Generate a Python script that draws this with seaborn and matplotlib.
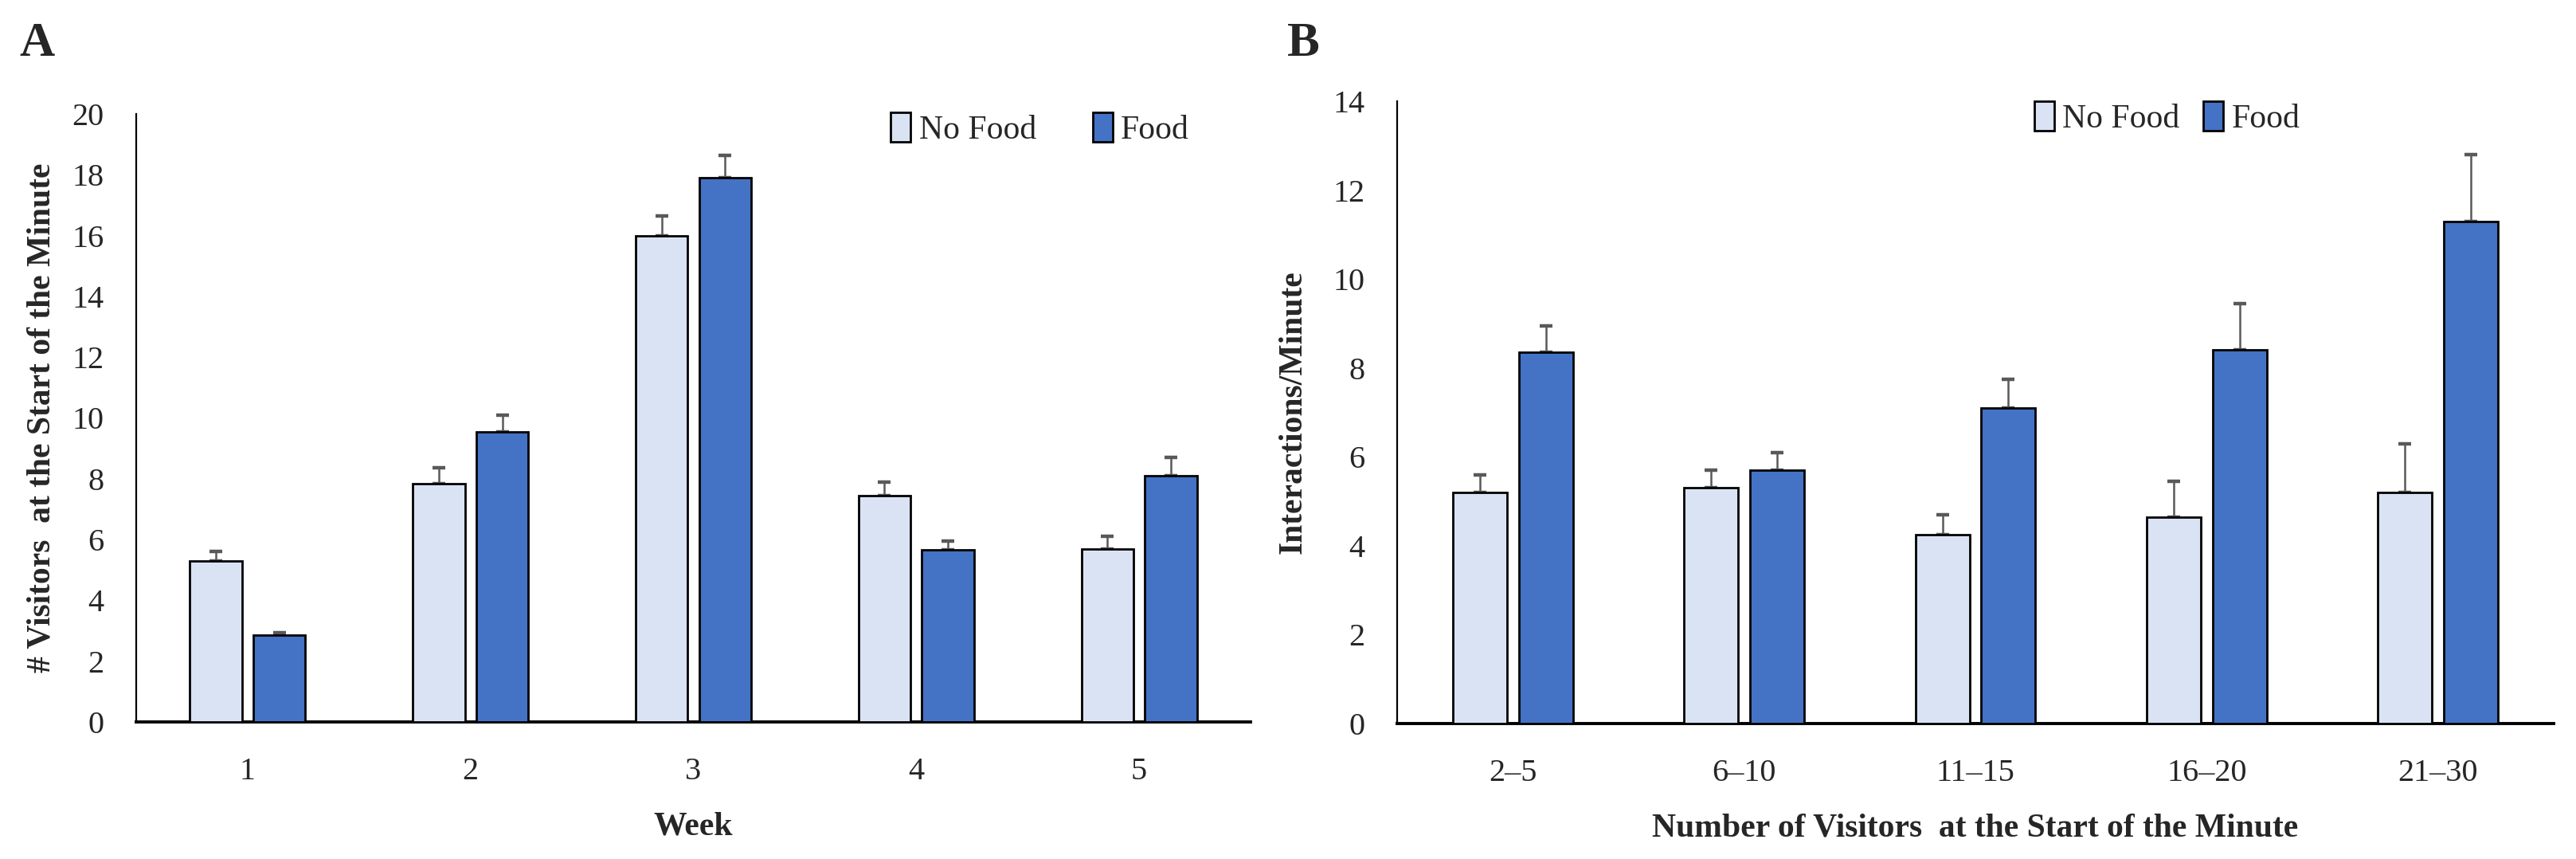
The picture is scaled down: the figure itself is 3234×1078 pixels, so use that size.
import matplotlib
matplotlib.use("Agg")
import matplotlib.pyplot as plt
import seaborn as sns
import pandas as pd
import numpy as np

# ---- data ----
weeks = ["1", "2", "3", "4", "5"]
a_nofood = [5.3, 7.85, 16.0, 7.45, 5.7]
a_nofood_err = [0.3, 0.5, 0.65, 0.45, 0.4]
a_food = [2.85, 9.55, 17.9, 5.65, 8.1]
a_food_err = [0.08, 0.55, 0.75, 0.3, 0.6]

groups = ["2\u20135", "6\u201310", "11\u201315", "16\u201320", "21\u201330"]
b_nofood = [5.2, 5.3, 4.25, 4.65, 5.2]
b_nofood_err = [0.4, 0.4, 0.45, 0.8, 1.1]
b_food = [8.35, 5.7, 7.1, 8.4, 11.3]
b_food_err = [0.6, 0.4, 0.65, 1.05, 1.5]

conditions = ["No Food", "Food"]
colors = ["#DAE3F3", "#4472C4"]

sns.set_theme(style="white")
plt.rcParams["font.family"] = ["Liberation Serif", "DejaVu Serif"]

W, H = 3234, 1078
fig = plt.figure(figsize=(W / 200, H / 200), dpi=200)


def frac_box(left, top, right, bottom):
    return [left / W, 1 - bottom / H, (right - left) / W, (bottom - top) / H]


axA = fig.add_axes(frac_box(171, 143, 1570, 906))
axB = fig.add_axes(frac_box(1754, 127, 3206, 908))


def draw(ax, cats, nf, nf_err, fd, fd_err, ymax, xlabel, ylabel, ylpad):
    df = pd.DataFrame({
        "cat": cats * 2,
        "cond": ["No Food"] * len(cats) + ["Food"] * len(cats),
        "val": list(nf) + list(fd),
    })
    sns.barplot(data=df, x="cat", y="val", hue="cond", hue_order=conditions,
                palette=colors, saturation=1, width=0.57, gap=0.18,
                edgecolor="black", linewidth=1.0, errorbar=None, ax=ax, zorder=3)
    errs = list(nf_err) + list(fd_err)
    vals = list(nf) + list(fd)
    patches = [p for p in ax.patches if p.get_height() > 0][:len(vals)]
    for p, v, e in zip(patches, vals, errs):
        xc = p.get_x() + p.get_width() / 2
        ax.errorbar([xc], [v], yerr=[[0], [e]], fmt="none", ecolor="#595959",
                    elinewidth=0.9, capsize=2.8, capthick=1.6, zorder=2)
    ax.set_ylim(0, ymax)
    ax.set_xlim(-0.5, len(cats) - 0.5)
    ax.set_yticks(np.arange(0, ymax + 1, 2))
    sns.despine(ax=ax)
    for s in ["left", "bottom"]:
        ax.spines[s].set_color("black")
    ax.spines["left"].set_linewidth(0.8)
    ax.spines["bottom"].set_linewidth(1.4)
    ax.tick_params(axis="y", length=0, labelsize=14.5, pad=14.5)
    ax.tick_params(axis="x", length=0, labelsize=14.5, pad=16)
    ax.set_xlabel(xlabel, fontsize=15, fontweight="bold", labelpad=11)
    ax.set_ylabel(ylabel, fontsize=15, fontweight="bold", labelpad=ylpad)
    ax.grid(False)


draw(axA, weeks, a_nofood, a_nofood_err, a_food, a_food_err, 20,
     "Week", "# Visitors  at the Start of the Minute", 7)
draw(axB, groups, b_nofood, b_nofood_err, b_food, b_food_err, 14,
     "Number of Visitors  at the Start of the Minute", "Interactions/Minute", 11)

for ax, loc, cs in [(axA, (0.677, 0.975), 1.7), (axB, (0.551, 0.973), 0.7)]:
    h, l = ax.get_legend_handles_labels()
    ax.legend(h, l, loc="center left", bbox_to_anchor=loc, ncol=2, frameon=False,
              fontsize=15, handlelength=0.6, handleheight=1.0, handletextpad=0.25,
              columnspacing=cs, borderaxespad=0, borderpad=0)

fig.text(46 / W, 1 - 55 / H, "A", fontsize=22, fontweight="bold", ha="center", va="center")
fig.text(1636 / W, 1 - 55 / H, "B", fontsize=22, fontweight="bold", ha="center", va="center")

fig.savefig("out.png", dpi=200, facecolor="white")
